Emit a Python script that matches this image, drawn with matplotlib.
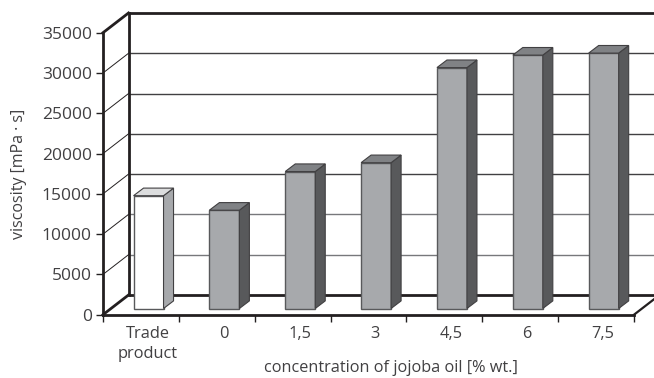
import matplotlib
matplotlib.use("Agg")
import matplotlib.pyplot as plt
from matplotlib.patches import Polygon

plt.rcParams["font.family"] = ["Open Sans", "DejaVu Sans"]

categories = ["Trade\nproduct", "0", "1,5", "3", "4,5", "6", "7,5"]
viscosity = [14000, 12200, 17000, 18100, 29900, 31450, 31700]
y_ticks = [0, 5000, 10000, 15000, 20000, 25000, 30000, 35000]

TEXT = "#414042"
LINE = "#231f20"
W, H = 654, 378

fig = plt.figure(figsize=(W / 100, H / 100), dpi=100)
# axes = front plane of the fake 3D box, pixels from the reference
left, right, bottom, top = 103, 634, 314.7, 32.7
ax = fig.add_axes([left / W, 1 - bottom / H, (right - left) / W, (bottom - top) / H])
ax.set_xlim(0, len(categories))
ax.set_ylim(0, 35000)

px_x = len(categories) / (right - left)
px_y = 35000 / (bottom - top)
depth_x, depth_y = 25.5 * px_x, 19.7 * px_y      # box depth
base_x, base_y = 7.6 * px_x, 6.2 * px_y          # bars stand a bit inside
side_x, side_y = 10 * px_x, 7.6 * px_y           # bar depth
bar_w = 30 * px_x
x_end = len(categories) + 20 * px_x

# back wall and side wall grid
for v in y_ticks:
    heavy = v in (0, 35000)
    grid_color = "#77787b" if v in (5000, 10000) else "#414042"
    ax.plot([depth_x, x_end + 5 * px_x], [v + depth_y] * 2, color=LINE if heavy else grid_color,
            lw=2.0 if heavy else 1.0, clip_on=False, zorder=1, solid_capstyle="butt")
    ax.plot([0, depth_x], [v, v + depth_y], color=LINE,
            lw=2.0 if heavy else 0.7, clip_on=False, zorder=1)
ax.plot([depth_x, depth_x], [depth_y, 35000 + depth_y], color=LINE, lw=2.0,
        clip_on=False, zorder=1)
ax.plot([len(categories), x_end], [0, 20 / 25.5 * depth_y], color=LINE, lw=1.6,
        clip_on=False, zorder=1)

# bars: front face through ax.bar, top and side as polygons
for i, v in enumerate(viscosity):
    x0 = i + 0.5 - bar_w / 2 + base_x
    x1 = x0 + bar_w
    y0 = base_y
    y1 = base_y + v
    if i == 0:
        front, roof, side = "#ffffff", "#dcddde", "#a7a9ac"
    else:
        front, roof, side = "#a7a9ac", "#808285", "#58595b"
    ax.bar(x0, v, bar_w, bottom=y0, align="edge", color=front, edgecolor="#58595b",
           lw=1.0, zorder=3, clip_on=False)
    ax.add_patch(Polygon([(x1, y0), (x1 + side_x, y0 + side_y), (x1 + side_x, y1 + side_y), (x1, y1)],
                         facecolor=side, edgecolor="#414042", lw=0.8, zorder=3, clip_on=False))
    ax.add_patch(Polygon([(x0, y1), (x0 + side_x, y1 + side_y), (x1 + side_x, y1 + side_y), (x1, y1)],
                         facecolor=roof, edgecolor="#414042", lw=0.8, zorder=3, clip_on=False))

for s in ("top", "right"):
    ax.spines[s].set_visible(False)
for s in ("left", "bottom"):
    ax.spines[s].set_linewidth(2.0)
    ax.spines[s].set_color(LINE)
ax.patch.set_alpha(0)

ax.set_yticks(y_ticks)
ax.set_xticks(range(len(categories) + 1))
ax.set_xticklabels([])
ax.tick_params(axis="y", length=5, width=1, color=LINE, labelcolor=TEXT, labelsize=12.5, pad=3)
ax.tick_params(axis="x", length=5, width=1, color=LINE)
for i, c in enumerate(categories):
    ax.annotate(c, xy=(i + 0.5, 0), xytext=(7, -11), xycoords=("data", "axes fraction"),
                textcoords="offset pixels", ha="center", va="top", fontsize=11.8, color=TEXT,
                linespacing=1.4)
fig.text(391 / W, 1 - 368 / H, "concentration of jojoba oil [% wt.]", ha="center", va="center",
         fontsize=11.7, color=TEXT)
fig.text(19 / W, 1 - 174 / H, "viscosity [mPa · s]", rotation=90, ha="center", va="center",
         fontsize=11.5, color=TEXT)

fig.savefig("out.png", dpi=100)
